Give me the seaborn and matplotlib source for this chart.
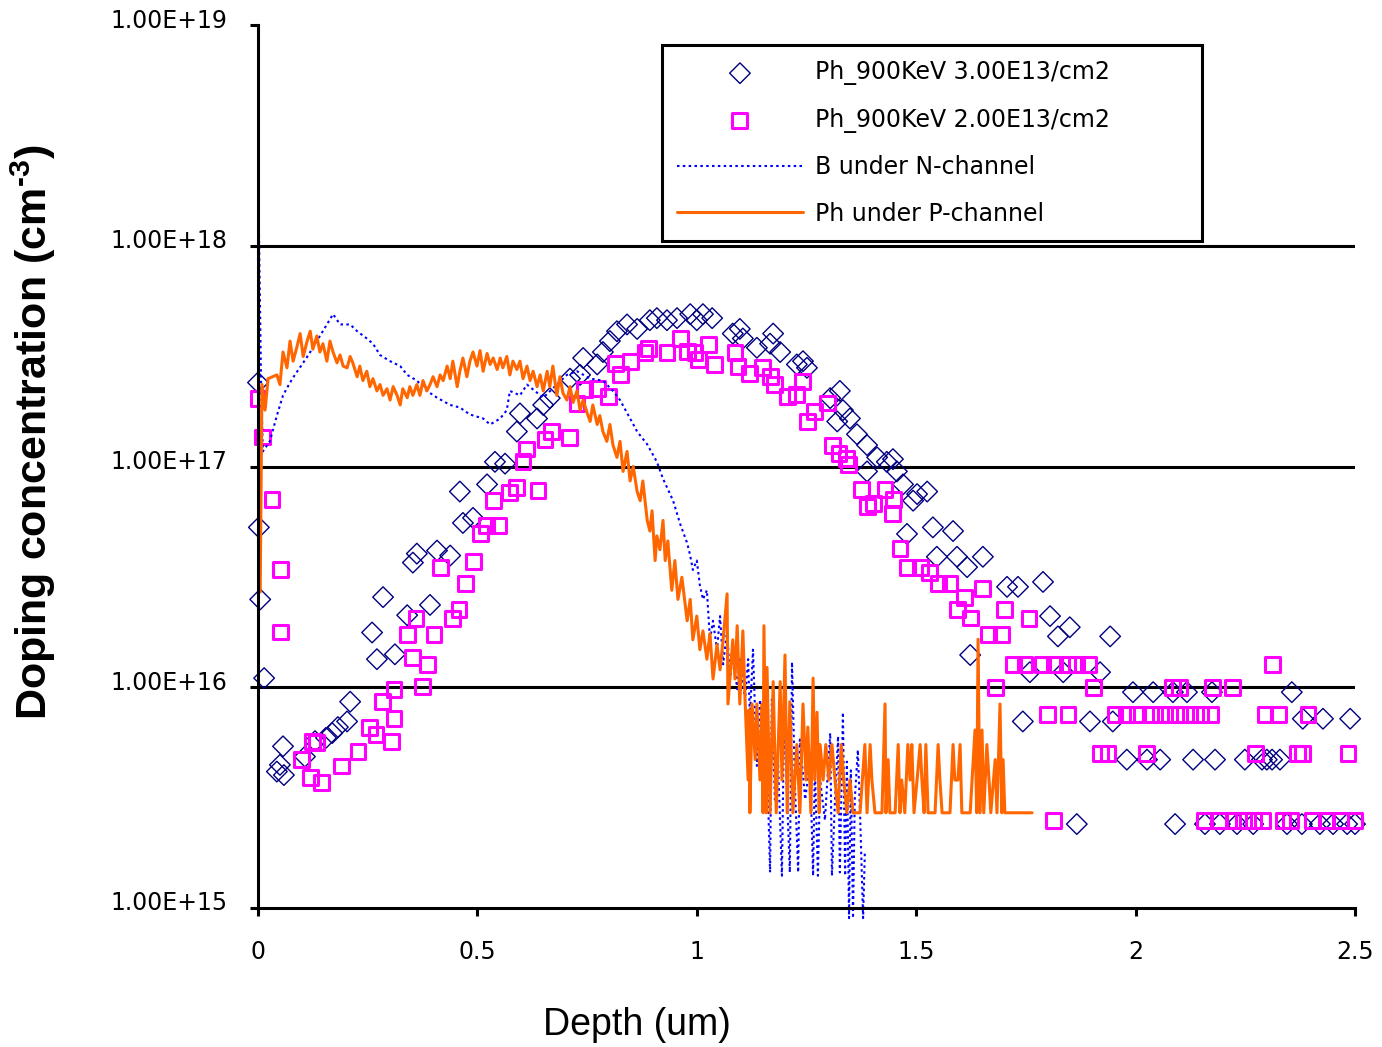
import matplotlib
matplotlib.use("Agg")
import matplotlib.pyplot as plt
import matplotlib.transforms as mtransforms
from matplotlib.ticker import NullLocator
import seaborn as sns

# ---------------- data ----------------
ph30_depth = [0.000, 0.002, 0.005, 0.014, 0.043, 0.050, 0.057, 0.059, 0.107, 0.130,
              0.155, 0.169, 0.182, 0.203, 0.210, 0.260, 0.271, 0.285, 0.312, 0.340,
              0.353, 0.362, 0.392, 0.408, 0.438, 0.460, 0.467, 0.490, 0.522, 0.540,
              0.563, 0.590, 0.597, 0.636, 0.650, 0.665, 0.711, 0.734, 0.741, 0.773,
              0.786, 0.802, 0.818, 0.841, 0.864, 0.893, 0.909, 0.932, 0.955, 0.985,
              1.000, 1.014, 1.035, 1.082, 1.098, 1.105, 1.137, 1.167, 1.174, 1.190,
              1.228, 1.242, 1.251, 1.304, 1.320, 1.326, 1.333, 1.349, 1.365, 1.388,
              1.388, 1.411, 1.433, 1.447, 1.456, 1.470, 1.479, 1.493, 1.502, 1.525,
              1.538, 1.547, 1.584, 1.593, 1.616, 1.623, 1.652, 1.707, 1.732, 1.743,
              1.759, 1.789, 1.805, 1.823, 1.835, 1.850, 1.866, 1.896, 1.919, 1.942,
              1.948, 1.980, 1.994, 2.026, 2.040, 2.056, 2.085, 2.090, 2.117, 2.131,
              2.158, 2.174, 2.181, 2.192, 2.231, 2.249, 2.268, 2.288, 2.299, 2.311,
              2.329, 2.345, 2.356, 2.379, 2.381, 2.420, 2.427, 2.450, 2.482, 2.489,
              2.500]
ph30_conc = [2.4e17, 5.3e16, 2.5e16, 1.1e16, 4.15e15, 4.45e15, 5.4e15, 4.0e15, 4.85e15, 5.7e15,
             5.9e15, 6.2e15, 6.6e15, 7.0e15, 8.6e15, 1.77e16, 1.34e16, 2.56e16, 1.41e16, 2.12e16,
             3.67e16, 4.03e16, 2.36e16, 4.16e16, 3.95e16, 7.7e16, 5.55e16, 5.85e16, 8.3e16, 1.05e17,
             1.03e17, 1.44e17, 1.74e17, 1.65e17, 1.9e17, 2.04e17, 2.5e17, 2.6e17, 3.1e17, 2.9e17,
             3.3e17, 3.7e17, 4.1e17, 4.4e17, 4.2e17, 4.6e17, 4.7e17, 4.6e17, 4.7e17, 4.9e17,
             4.6e17, 4.9e17, 4.7e17, 4.0e17, 4.2e17, 3.8e17, 3.45e17, 3.6e17, 4.0e17, 3.3e17,
             2.9e17, 3.0e17, 2.8e17, 2.04e17, 1.6e17, 2.2e17, 1.8e17, 1.65e17, 1.4e17, 1.25e17,
             9.5e16, 1.1e17, 1.05e17, 1.08e17, 9.5e16, 8.3e16, 4.95e16, 7.0e16, 7.5e16, 7.7e16,
             5.3e16, 3.9e16, 5.1e16, 3.9e16, 3.5e16, 1.4e16, 3.9e16, 2.85e16, 2.85e16, 7.0e15,
             1.17e16, 3.0e16, 2.1e16, 1.7e16, 1.17e16, 1.87e16, 2.4e15, 7.0e15, 1.17e16, 1.7e16,
             7.0e15, 4.7e15, 9.5e15, 4.7e15, 9.5e15, 4.7e15, 9.5e15, 2.4e15, 9.5e15, 4.7e15,
             2.4e15, 9.5e15, 4.7e15, 2.4e15, 2.4e15, 4.7e15, 2.4e15, 4.7e15, 4.7e15, 4.7e15,
             4.7e15, 2.4e15, 9.5e15, 2.4e15, 7.2e15, 2.4e15, 7.2e15, 2.4e15, 2.4e15, 7.2e15,
             2.4e15]

ph20_depth = [0.000, 0.011, 0.032, 0.052, 0.052, 0.100, 0.119, 0.125, 0.134, 0.144,
              0.191, 0.228, 0.255, 0.269, 0.283, 0.305, 0.310, 0.310, 0.340, 0.353,
              0.360, 0.374, 0.387, 0.401, 0.415, 0.444, 0.458, 0.472, 0.492, 0.508,
              0.520, 0.536, 0.549, 0.574, 0.590, 0.604, 0.611, 0.638, 0.654, 0.668,
              0.709, 0.727, 0.745, 0.773, 0.798, 0.814, 0.827, 0.848, 0.882, 0.889,
              0.932, 0.962, 0.978, 0.996, 1.003, 1.026, 1.041, 1.087, 1.094, 1.121,
              1.149, 1.167, 1.178, 1.206, 1.228, 1.240, 1.253, 1.269, 1.297, 1.310,
              1.324, 1.342, 1.345, 1.376, 1.388, 1.402, 1.429, 1.445, 1.449, 1.463,
              1.481, 1.509, 1.531, 1.550, 1.577, 1.595, 1.611, 1.623, 1.652, 1.664,
              1.680, 1.695, 1.702, 1.721, 1.748, 1.757, 1.787, 1.800, 1.812, 1.816,
              1.844, 1.846, 1.866, 1.892, 1.905, 1.919, 1.937, 1.953, 1.980, 2.005,
              2.024, 2.033, 2.056, 2.078, 2.085, 2.101, 2.101, 2.124, 2.147, 2.156,
              2.170, 2.176, 2.192, 2.220, 2.222, 2.245, 2.268, 2.274, 2.290, 2.295,
              2.311, 2.325, 2.336, 2.352, 2.368, 2.381, 2.393, 2.404, 2.436, 2.466,
              2.484, 2.500]
ph20_conc = [2.04e17, 1.36e17, 7.1e16, 3.4e16, 1.78e16, 4.7e15, 3.9e15, 5.7e15, 5.6e15, 3.7e15,
             4.4e15, 5.1e15, 6.6e15, 6.1e15, 8.6e15, 5.7e15, 7.2e15, 9.8e15, 1.73e16, 1.36e16,
             2.04e16, 1.01e16, 1.27e16, 1.73e16, 3.5e16, 2.04e16, 2.24e16, 2.96e16, 3.7e16, 4.95e16,
             5.4e16, 7.0e16, 5.4e16, 7.6e16, 8.0e16, 1.05e17, 1.2e17, 7.8e16, 1.32e17, 1.44e17,
             1.35e17, 1.93e17, 2.24e17, 2.26e17, 2.08e17, 2.94e17, 2.62e17, 3.0e17, 3.27e17, 3.44e17,
             3.27e17, 3.8e17, 3.33e17, 3.27e17, 3.06e17, 3.58e17, 2.9e17, 3.27e17, 2.85e17, 2.65e17,
             2.8e17, 2.56e17, 2.36e17, 2.08e17, 2.12e17, 2.43e17, 1.6e17, 1.78e17, 1.94e17, 1.24e17,
             1.15e17, 1.09e17, 1.02e17, 7.9e16, 6.6e16, 6.8e16, 7.9e16, 6.15e16, 7.1e16, 4.25e16,
             3.5e16, 3.5e16, 3.3e16, 2.96e16, 2.96e16, 2.24e16, 2.56e16, 2.06e16, 2.8e16, 1.73e16,
             1.0e16, 1.73e16, 2.24e16, 1.27e16, 1.27e16, 2.04e16, 1.27e16, 7.5e15, 2.5e15, 1.27e16,
             1.27e16, 7.5e15, 1.27e16, 1.27e16, 1.0e16, 5.0e15, 5.0e15, 7.5e15, 7.5e15, 7.5e15,
             5.0e15, 7.5e15, 7.5e15, 7.5e15, 1.0e16, 1.0e16, 7.5e15, 7.5e15, 7.5e15, 2.5e15,
             7.5e15, 1.0e16, 2.5e15, 1.0e16, 2.5e15, 2.5e15, 2.5e15, 5.0e15, 2.5e15, 7.5e15,
             1.27e16, 7.5e15, 2.5e15, 2.5e15, 5.0e15, 5.0e15, 7.5e15, 2.5e15, 2.5e15, 2.5e15,
             5.0e15, 2.5e15]

bn_depth = [0.000, 0.002, 0.007, 0.011, 0.027, 0.043, 0.057, 0.073, 0.084, 0.103,
            0.119, 0.141, 0.157, 0.171, 0.187, 0.210, 0.226, 0.248, 0.262, 0.278,
            0.301, 0.324, 0.340, 0.362, 0.385, 0.408, 0.438, 0.460, 0.483, 0.513,
            0.529, 0.552, 0.567, 0.574, 0.597, 0.613, 0.650, 0.681, 0.704, 0.727,
            0.757, 0.786, 0.809, 0.825, 0.848, 0.864, 0.887, 0.909, 0.923, 0.946,
            0.962, 0.978, 0.985, 0.991, 1.000, 1.007, 1.014, 1.023, 1.030, 1.037,
            1.046, 1.053, 1.060, 1.069, 1.076, 1.082, 1.092, 1.098, 1.110, 1.117,
            1.121, 1.128, 1.137, 1.144, 1.151, 1.160, 1.167, 1.171, 1.178, 1.185,
            1.194, 1.199, 1.206, 1.212, 1.217, 1.224, 1.231, 1.235, 1.247, 1.258,
            1.265, 1.269, 1.276, 1.281, 1.292, 1.304, 1.308, 1.315, 1.322, 1.326,
            1.333, 1.338, 1.342, 1.347, 1.351, 1.356, 1.360, 1.367, 1.372, 1.379,
            1.383]
bn_conc = [1.0e19, 1.26e18, 2.4e17, 1.17e17, 1.3e17, 1.7e17, 2.1e17, 2.4e17, 2.6e17, 2.95e17,
           3.3e17, 3.9e17, 4.4e17, 4.9e17, 4.4e17, 4.4e17, 4.1e17, 3.8e17, 3.6e17, 3.2e17,
           3.0e17, 2.85e17, 2.6e17, 2.45e17, 2.2e17, 2.05e17, 1.9e17, 1.85e17, 1.72e17, 1.65e17,
           1.55e17, 1.65e17, 1.8e17, 2.2e17, 2.1e17, 2.35e17, 2.05e17, 2.35e17, 2.6e17, 2.7e17,
           2.5e17, 2.45e17, 2.2e17, 2.0e17, 1.65e17, 1.44e17, 1.26e17, 1.05e17, 8.8e16, 7.0e16,
           5.5e16, 4.5e16, 3.95e16, 3.4e16, 3.75e16, 2.9e16, 2.5e16, 2.75e16, 1.64e16, 2.0e16,
           1.48e16, 2.1e16, 1.27e16, 1.8e16, 1.09e16, 1.48e16, 9.8e15, 1.34e16, 8.8e15, 1.34e16,
           7.2e15, 1.48e16, 4.4e15, 8.8e15, 5.8e15, 4.7e15, 1.45e15, 8.8e15, 3.1e15, 4.7e15,
           1.4e15, 7.7e15, 3.1e15, 1.45e15, 1.3e16, 3.4e15, 1.45e15, 5.8e15, 3.1e15, 4.7e15,
           1.4e15, 4.4e15, 1.4e15, 3.8e15, 2.5e15, 6.2e15, 1.4e15, 3.1e15, 6.0e15, 1.45e15,
           7.7e15, 1.4e15, 4.6e15, 9.0e14, 4.2e15, 9.0e14, 3.1e15, 5.2e15, 2.7e15, 9.0e14,
           1.8e15]

pp_depth = [0.005, 0.009, 0.016, 0.023, 0.043, 0.050, 0.057, 0.066, 0.073, 0.080,
            0.089, 0.096, 0.103, 0.112, 0.119, 0.125, 0.134, 0.141, 0.148, 0.157,
            0.164, 0.171, 0.180, 0.187, 0.194, 0.203, 0.210, 0.216, 0.226, 0.232,
            0.239, 0.248, 0.255, 0.262, 0.271, 0.278, 0.285, 0.294, 0.301, 0.308,
            0.317, 0.324, 0.330, 0.340, 0.346, 0.353, 0.362, 0.369, 0.376, 0.385,
            0.392, 0.399, 0.408, 0.415, 0.422, 0.431, 0.438, 0.444, 0.454, 0.460,
            0.467, 0.476, 0.483, 0.490, 0.499, 0.506, 0.513, 0.522, 0.529, 0.536,
            0.545, 0.552, 0.558, 0.567, 0.574, 0.581, 0.590, 0.597, 0.604, 0.613,
            0.620, 0.627, 0.636, 0.643, 0.650, 0.659, 0.665, 0.672, 0.681, 0.688,
            0.695, 0.704, 0.711, 0.718, 0.727, 0.734, 0.741, 0.750, 0.757, 0.763,
            0.773, 0.779, 0.786, 0.795, 0.802, 0.809, 0.818, 0.825, 0.832, 0.841,
            0.848, 0.855, 0.864, 0.871, 0.877, 0.887, 0.893, 0.898, 0.905, 0.909,
            0.916, 0.923, 0.928, 0.934, 0.943, 0.950, 0.957, 0.966, 0.978, 0.985,
            0.991, 1.000, 1.007, 1.014, 1.023, 1.030, 1.037, 1.046, 1.053, 1.060,
            1.069, 1.071, 1.082, 1.087, 1.092, 1.098, 1.105, 1.110, 1.117, 1.119,
            1.121, 1.126, 1.133, 1.137, 1.144, 1.149, 1.151, 1.153, 1.158, 1.160,
            1.167, 1.174, 1.181, 1.190, 1.194, 1.201, 1.206, 1.212, 1.219, 1.228,
            1.235, 1.242, 1.249, 1.253, 1.260, 1.265, 1.269, 1.274, 1.279, 1.281,
            1.288, 1.294, 1.301, 1.308, 1.315, 1.322, 1.329, 1.335, 1.342, 1.349,
            1.356, 1.372, 1.383, 1.388, 1.395, 1.399, 1.406, 1.422, 1.429, 1.431,
            1.436, 1.440, 1.452, 1.459, 1.463, 1.467, 1.474, 1.481, 1.486, 1.490,
            1.495, 1.502, 1.509, 1.513, 1.518, 1.522, 1.527, 1.543, 1.550, 1.554,
            1.559, 1.577, 1.584, 1.588, 1.595, 1.600, 1.604, 1.623, 1.634, 1.638,
            1.641, 1.645, 1.650, 1.654, 1.661, 1.666, 1.670, 1.680, 1.684, 1.691,
            1.695, 1.698, 1.702, 1.764]
pp_conc = [2.7e16, 2.35e17, 1.8e17, 2.5e17, 2.6e17, 2.35e17, 3.3e17, 2.8e17, 3.7e17, 3.0e17,
           3.5e17, 4.0e17, 3.15e17, 3.7e17, 4.1e17, 3.4e17, 3.9e17, 3.3e17, 3.6e17, 3.0e17,
           3.7e17, 3.3e17, 2.95e17, 3.2e17, 2.85e17, 2.8e17, 3.15e17, 2.95e17, 2.55e17, 2.85e17,
           2.45e17, 2.7e17, 2.3e17, 2.5e17, 2.2e17, 2.35e17, 2.1e17, 2.25e17, 2.0e17, 2.3e17,
           2.1e17, 1.9e17, 2.25e17, 2.05e17, 2.3e17, 2.1e17, 2.35e17, 2.1e17, 2.45e17, 2.2e17,
           2.35e17, 2.55e17, 2.3e17, 2.6e17, 2.45e17, 2.85e17, 2.5e17, 3.0e17, 2.3e17, 2.7e17,
           3.1e17, 2.55e17, 3.0e17, 3.3e17, 2.85e17, 3.35e17, 2.7e17, 3.25e17, 2.9e17, 3.1e17,
           2.75e17, 3.1e17, 2.8e17, 3.15e17, 2.6e17, 3.0e17, 2.75e17, 3.0e17, 2.5e17, 2.85e17,
           2.45e17, 2.7e17, 2.3e17, 2.6e17, 2.2e17, 2.7e17, 2.3e17, 2.85e17, 2.1e17, 2.55e17,
           2.15e17, 2.0e17, 2.3e17, 1.95e17, 2.2e17, 1.8e17, 2.0e17, 1.75e17, 1.6e17, 1.9e17,
           1.55e17, 1.7e17, 1.44e17, 1.3e17, 1.55e17, 1.25e17, 1.1e17, 1.3e17, 9.5e16, 1.17e17,
           8.6e16, 1.0e17, 7.7e16, 7.0e16, 8.6e16, 5.7e16, 5.1e16, 6.3e16, 3.75e16, 4.85e16,
           4.2e16, 5.7e16, 3.75e16, 4.6e16, 2.75e16, 3.75e16, 2.5e16, 3.15e16, 2.0e16, 2.5e16,
           1.64e16, 2.1e16, 1.48e16, 1.8e16, 1.34e16, 1.75e16, 1.09e16, 1.56e16, 1.2e16, 1.64e16,
           2.65e16, 8.4e15, 1.64e16, 1.09e16, 1.9e16, 8.4e15, 1.8e16, 8.8e15, 3.8e15, 7.9e15,
           2.7e15, 8.4e15, 4.7e15, 8.4e15, 3.8e15, 8.4e15, 2.7e15, 1.9e16, 2.7e15, 1.23e16,
           2.7e15, 1.06e16, 2.7e15, 1.06e16, 3.8e15, 1.4e16, 2.7e15, 8.6e15, 2.7e15, 5.5e15,
           2.7e15, 8.4e15, 3.8e15, 6.6e15, 2.7e15, 1.1e16, 3.8e15, 7.7e15, 2.7e15, 5.5e15,
           3.8e15, 5.5e15, 3.8e15, 5.5e15, 3.8e15, 2.7e15, 5.5e15, 3.8e15, 2.7e15, 3.8e15,
           2.7e15, 2.7e15, 5.5e15, 2.7e15, 5.5e15, 3.8e15, 2.7e15, 2.7e15, 8.4e15, 2.7e15,
           4.7e15, 2.7e15, 2.7e15, 5.5e15, 2.7e15, 3.8e15, 2.7e15, 5.5e15, 3.8e15, 5.5e15,
           2.7e15, 3.8e15, 5.5e15, 3.8e15, 2.7e15, 5.5e15, 2.7e15, 2.7e15, 5.5e15, 3.8e15,
           2.7e15, 2.7e15, 5.5e15, 3.8e15, 3.8e15, 5.5e15, 2.7e15, 2.7e15, 6.4e15, 2.7e15,
           1.65e16, 2.7e15, 6.4e15, 2.7e15, 5.5e15, 3.8e15, 2.7e15, 4.7e15, 2.7e15, 8.4e15,
           2.7e15, 4.7e15, 2.7e15, 2.7e15]

series_labels = ["Ph_900KeV 3.00E13/cm2", "Ph_900KeV 2.00E13/cm2",
                 "B under N-channel", "Ph under P-channel"]
y_ticks = [1e15, 1e16, 1e17, 1e18, 1e19]
y_tick_labels = ["1.00E+15", "1.00E+16", "1.00E+17", "1.00E+18", "1.00E+19"]
x_ticks = [0, 0.5, 1, 1.5, 2, 2.5]
x_tick_labels = ["0", "0.5", "1", "1.5", "2", "2.5"]

# ---------------- style ----------------
sns.set_theme(style="white")
plt.rcParams['font.family'] = ['DejaVu Sans']
plt.rcParams['mathtext.default'] = 'regular'
plt.rcParams['text.color'] = 'black'
plt.rcParams['axes.labelcolor'] = 'black'
plt.rcParams['xtick.color'] = 'black'
plt.rcParams['ytick.color'] = 'black'

W, H = 1382, 1047
fig = plt.figure(figsize=(W / 100, H / 100), dpi=100)
ax = fig.add_axes([258 / W, 1 - 908 / H, (1355 - 258) / W, (908 - 25) / H])
ax.set_yscale('log')

NAVY = '#000080'
MAGENTA = '#FF00FF'
BLUE = '#0000FF'
ORANGE = '#FF6600'

sns.scatterplot(x=ph30_depth, y=ph30_conc, marker='D', s=110, color=NAVY,
                linewidth=1.0, ax=ax, legend=False, zorder=3, clip_on=False)
diam = ax.collections[-1]
diam.set_facecolor('none')
diam.set_edgecolor(NAVY)
diam.set_linewidth(1.0)

sns.scatterplot(x=ph20_depth, y=ph20_conc, marker='s', s=115, color=MAGENTA,
                linewidth=2.2, ax=ax, legend=False, zorder=4, clip_on=False)
sq = ax.collections[-1]
sq.set_facecolor('none')
sq.set_edgecolor(MAGENTA)
sq.set_linewidth(2.2)

sns.lineplot(x=bn_depth, y=bn_conc, estimator=None, sort=False, color=BLUE,
             linewidth=1.5, ax=ax, legend=False, zorder=5, clip_on=False)
bline = ax.lines[-1]
bline.set_linestyle((0, (1.2, 1.6)))

sns.lineplot(x=pp_depth, y=pp_conc, estimator=None, sort=False, color=ORANGE,
             linewidth=2.2, ax=ax, legend=False, zorder=6, clip_on=False)
oline = ax.lines[-1]

# reference lines at decades
for v in y_ticks[1:-1]:
    ax.axhline(v, color='black', linewidth=2.2, zorder=1)

ax.set_xlim(0, 2.5)
ax.set_ylim(1e15, 1e19)
ax.set_yticks(y_ticks)
ax.set_yticklabels(y_tick_labels)
ax.yaxis.set_minor_locator(NullLocator())
ax.set_xticks(x_ticks)
ax.set_xticklabels(x_tick_labels)

for s in ['top', 'right']:
    ax.spines[s].set_visible(False)
for s in ['left', 'bottom']:
    ax.spines[s].set_color('black')
    ax.spines[s].set_linewidth(2.2)
    ax.spines[s].set_zorder(7)

ax.tick_params(axis='y', which='major', left=True, direction='out', length=6,
               width=2.2, color='black', pad=16, labelsize=17, labelcolor='black')
ax.tick_params(axis='x', which='major', bottom=True, direction='out', length=6,
               width=2.2, color='black', pad=17, labelsize=17, labelcolor='black')

off = mtransforms.ScaledTranslation(0, 7 / 100, fig.dpi_scale_trans)
for lab in ax.get_yticklabels():
    lab.set_transform(lab.get_transform() + off)

ax.set_xlabel('Depth (um)', fontsize=27, family='Liberation Sans', color='black')
ax.xaxis.set_label_coords((637 - 258) / 1097, (908 - 1025) / 883)
ax.xaxis.label.set_va('center')
ax.set_ylabel('Doping concentration (cm$^{\u2010 3}$)', fontsize=31, fontweight='bold',
              family='Liberation Sans', color='black')
ax.yaxis.set_label_coords((33 - 258) / 1097, (908 - 432) / 883)
ax.yaxis.label.set_va('center')
ax.yaxis.label.set_ha('center')

leg = ax.legend(handles=[diam, sq, bline, oline], labels=series_labels,
                loc='upper left', bbox_to_anchor=(0.3683, 0.754, 0.4923, 0.2233),
                mode='expand', borderaxespad=0, fontsize=17, handlelength=5.3,
                handletextpad=0.55, labelspacing=0.95, borderpad=0.65,
                frameon=True, fancybox=False, framealpha=1, edgecolor='black',
                scatterpoints=1)
leg.get_frame().set_linewidth(2.2)
for t in leg.get_texts():
    t.set_color('black')
leg.set_zorder(10)

fig.savefig('out.png', dpi=100)
